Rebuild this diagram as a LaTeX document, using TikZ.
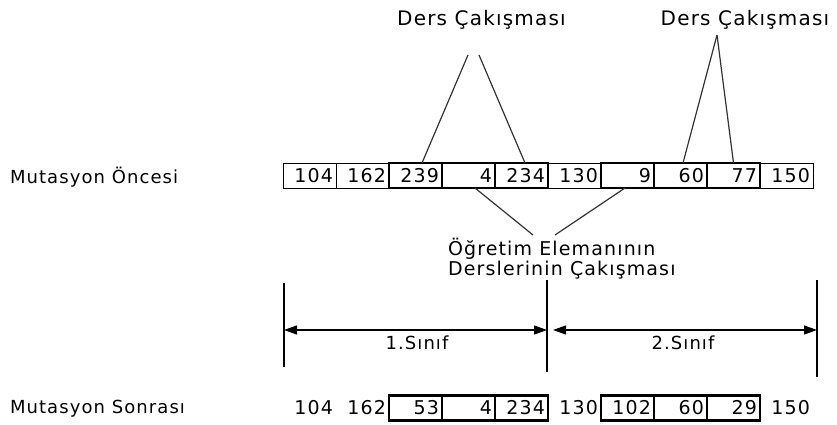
\documentclass[tikz,border=0pt]{standalone}
\usepackage{fontspec}
\setmainfont{DejaVu Sans}[LetterSpace=6]
\usetikzlibrary{arrows.meta}
\tikzset{
  lbl/.style={font=\fontsize{18}{21}\selectfont, inner sep=0pt, outer sep=0pt},
  big/.style={font=\fontsize{20}{23}\selectfont, inner sep=0pt, outer sep=0pt},
  num/.style={font=\fontsize{19}{22}\selectfont, minimum height=25pt, text width=47pt,
              align=right, inner xsep=3pt, inner ysep=0pt, outer sep=0pt},
  thinbox/.style={num, draw, line width=1pt},
  thickbox/.style={num, draw, line width=2.3pt},
  plainnum/.style={num},
  conn/.style={line width=1.2pt, draw=black!80},
  dimline/.style={line width=1.4pt},
  dimarrow/.style={line width=1.2pt, {Triangle[length=13pt,width=9pt]}-{Triangle[length=13pt,width=9pt]}},
}
\begin{document}
\begin{tikzpicture}[x=1pt,y=-1pt]
\useasboundingbox (0,0) rectangle (837,425);

% row labels
\node[lbl, anchor=west] (pre) at (10,177) {Mutasyon Öncesi};
\node[lbl, anchor=west] (post) at (10,409) {Mutasyon Sonrası};

% top row: thin boxes
\node[thinbox] (a1) at (309.5,175.5) {104};
\node[thinbox] (a2) at (362.5,175.5) {162};
\node[thinbox] (a6) at (574.5,175.5) {130};
\node[thinbox] (a10) at (786.5,175.5) {150};
% top row: thick boxes
\node[thickbox] (a3) at (415.5,175.5) {239};
\node[thickbox] (a4) at (468.5,175.5) {4};
\node[thickbox] (a5) at (521.5,175.5) {234};
\node[thickbox] (a7) at (627.5,175.5) {9};
\node[thickbox] (a8) at (680.5,175.5) {60};
\node[thickbox] (a9) at (733.5,175.5) {77};

% bottom row
\node[plainnum] (b1) at (309.5,408) {104};
\node[plainnum] (b2) at (362.5,408) {162};
\node[plainnum] (b6) at (574.5,408) {130};
\node[plainnum] (b10) at (786.5,408) {150};
\node[thickbox] (b3) at (415.5,408) {53};
\node[thickbox] (b4) at (468.5,408) {4};
\node[thickbox] (b5) at (521.5,408) {234};
\node[thickbox] (b7) at (627.5,408) {102};
\node[thickbox] (b8) at (680.5,408) {60};
\node[thickbox] (b9) at (733.5,408) {29};

% Ders Cakismasi labels
\node[big] (d1) at (481.5,20) {Ders Çakışması};
\node[big] (d2) at (745,20) {Ders Çakışması};
\coordinate (p1) at (468,55);
\coordinate (p2) at (479,55);
\coordinate (p3) at (717,35);
\draw[conn] ([xshift=6.5pt]a3.north) -- (p1);
\draw[conn] ([xshift=3.5pt]a5.north) -- (p2);
\draw[conn] ([xshift=2.5pt]a8.north) -- (p3);
\draw[conn] (a9.north) -- (p3);

% Ogretim elemani
\node[font=\fontsize{19}{20}\selectfont, inner sep=0pt, outer sep=0pt, align=left, anchor=west] (og) at (448,259)
  {Öğretim Elemanının\\Derslerinin Çakışması};
\coordinate (q1) at (533,235);
\coordinate (q2) at (555,235);
\draw[conn] ([xshift=6.5pt]a4.south) -- (q1);
\draw[conn] ([xshift=-2.5pt]a7.south) -- (q2);

% dimension lines
\coordinate (v1t) at (284,283); \coordinate (v1b) at (284,367);
\coordinate (v2t) at (547,280); \coordinate (v2b) at (547,372);
\coordinate (v3t) at (817,280); \coordinate (v3b) at (817,377);
\draw[dimline] (v1t) -- (v1b);
\draw[dimline] (v2t) -- (v2b);
\draw[dimline] (v3t) -- (v3b);
\coordinate (h1l) at (284,330); \coordinate (h1r) at (547,330);
\coordinate (h2l) at (553,330); \coordinate (h2r) at (817,330);
\draw[dimarrow] (h1l) -- (h1r);
\draw[dimarrow] (h2l) -- (h2r);
\node[lbl] (s1) at (417,343) {1.Sınıf};
\node[lbl] (s2) at (683,343) {2.Sınıf};
\end{tikzpicture}
\end{document}
